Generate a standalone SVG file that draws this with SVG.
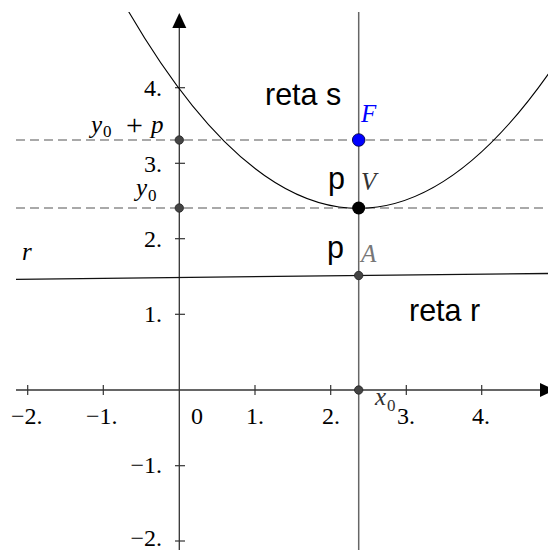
<svg xmlns="http://www.w3.org/2000/svg" width="548" height="550" viewBox="0 0 548 550">
<style>
.tick{font-family:"Liberation Serif","DejaVu Serif",serif;font-size:24px;fill:#000}
.math{font-family:"Liberation Serif","DejaVu Serif",serif;font-style:italic;font-size:25px}
.sub{font-family:"Liberation Serif","DejaVu Serif",serif;font-style:normal;font-size:17px}
.sans{font-family:"Liberation Sans",Arial,sans-serif;font-size:30.5px;fill:#000}
.dash{stroke:#555;stroke-width:1.2;stroke-dasharray:9 5;fill:none}
.axis{stroke:#333;stroke-width:1.3;fill:none}
.tk{stroke:#333;stroke-width:1.2}
.pt{fill:#444;stroke:#222;stroke-width:0.8}
</style>
<defs>
<clipPath id="plot"><rect x="16" y="12" width="532" height="538"/></clipPath>
</defs>
<rect width="548" height="550" fill="#fff"/>

<g id="connectors">
  <line class="dash" x1="16" y1="140" x2="548" y2="140"/>
  <line class="dash" x1="16" y1="208" x2="548" y2="208"/>
  <line class="axis" x1="16" y1="390" x2="542" y2="390"/>
  <polygon points="540,383 555,390 540,397" fill="#000"/>
  <line class="axis" x1="179.3" y1="550" x2="179.3" y2="26"/>
  <polygon points="179.3,13 172.3,28 186.3,28" fill="#000"/>
  <g id="ticks">
    <line class="tk" x1="27.7" y1="385" x2="27.7" y2="395"/>
    <line class="tk" x1="103.3" y1="385" x2="103.3" y2="395"/>
    <line class="tk" x1="255" y1="385" x2="255" y2="395"/>
    <line class="tk" x1="330.7" y1="385" x2="330.7" y2="395"/>
    <line class="tk" x1="406.3" y1="385" x2="406.3" y2="395"/>
    <line class="tk" x1="481.7" y1="385" x2="481.7" y2="395"/>
    <line class="tk" x1="175" y1="87.7" x2="185" y2="87.7"/>
    <line class="tk" x1="175" y1="163.3" x2="185" y2="163.3"/>
    <line class="tk" x1="175" y1="238.7" x2="185" y2="238.7"/>
    <line class="tk" x1="175" y1="314.3" x2="185" y2="314.3"/>
    <line class="tk" x1="175" y1="465.7" x2="185" y2="465.7"/>
    <line class="tk" x1="175" y1="541" x2="185" y2="541"/>
  </g>
  <line id="line-r" x1="16" y1="279.3" x2="548" y2="273.5" stroke="#111" stroke-width="1.3"/>
  <line id="line-s" x1="358.7" y1="12" x2="358.7" y2="550" stroke="#666" stroke-width="1.5"/>
  <path id="parabola" clip-path="url(#plot)" d="M118,-7 Q339,389 560,57" fill="none" stroke="#000" stroke-width="1.1"/>
</g>

<g id="tick-labels" class="tick">
  <text x="11" y="424">−2.</text>
  <text x="86" y="424">−1.</text>
  <text x="191" y="424">0</text>
  <text x="246" y="424">1.</text>
  <text x="322" y="424">2.</text>
  <text x="397" y="424">3.</text>
  <text x="472" y="424">4.</text>
  <text x="162" y="96" text-anchor="end">4.</text>
  <text x="162" y="172" text-anchor="end">3.</text>
  <text x="162" y="247" text-anchor="end">2.</text>
  <text x="162" y="322" text-anchor="end">1.</text>
  <text x="162" y="473" text-anchor="end">−1.</text>
  <text x="162" y="546" text-anchor="end">−2.</text>
</g>

<g id="label-y0p">
  <text class="math" fill="#000"><tspan x="91" y="133">y</tspan><tspan class="sub" x="103" y="137">0</tspan><tspan font-style="normal" font-size="30" x="126" y="135">+</tspan><tspan x="151" y="133">p</tspan></text>
</g>
<g id="label-y0">
  <text class="math" fill="#000"><tspan x="136" y="196">y</tspan><tspan class="sub" x="148" y="201">0</tspan></text>
</g>
<g id="label-x0">
  <text class="math" fill="#333"><tspan x="375" y="405">x</tspan><tspan class="sub" x="387" y="411">0</tspan></text>
</g>
<g id="label-r">
  <text x="22" y="260" class="math" font-size="23" fill="#000">r</text>
</g>

<g id="point-y0p"><circle class="pt" cx="179.3" cy="140" r="4.2"/></g>
<g id="point-y0"><circle class="pt" cx="179.3" cy="208" r="4.2"/></g>
<g id="point-A">
  <circle class="pt" cx="358.7" cy="275.5" r="4.2"/>
  <text x="361" y="262" class="math" font-size="21" fill="#777">A</text>
</g>
<g id="point-x0"><circle class="pt" cx="358.7" cy="390" r="4.2"/></g>
<g id="point-F">
  <circle cx="358.7" cy="140" r="6.3" fill="#0000ff" stroke="#000033" stroke-width="0.8"/>
  <text x="361" y="122" class="math" font-size="21" fill="#0000ff">F</text>
</g>
<g id="point-V">
  <circle cx="358.7" cy="208" r="6.5" fill="#000"/>
  <text x="361" y="190" class="math" font-size="21" fill="#333">V</text>
</g>

<g id="text-reta-s"><text x="265" y="105" class="sans">reta s</text></g>
<g id="text-reta-r"><text x="409" y="321" class="sans">reta r</text></g>
<g id="text-p1"><text x="328" y="189" class="sans">p</text></g>
<g id="text-p2"><text x="327" y="258" class="sans">p</text></g>
</svg>
